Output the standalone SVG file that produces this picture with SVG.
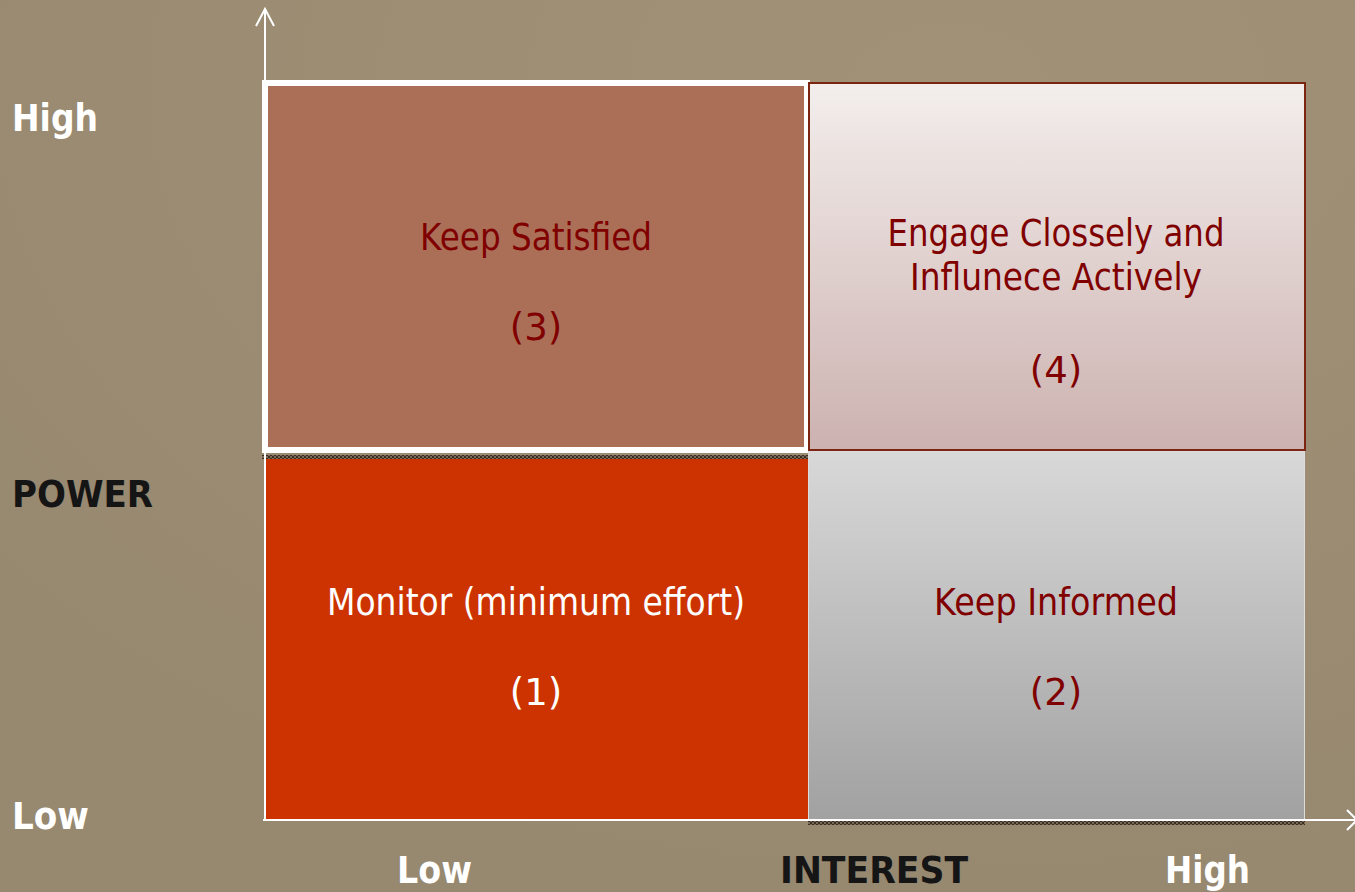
<svg xmlns="http://www.w3.org/2000/svg" width="1355" height="892" viewBox="0 0 1355 892">
<defs>
<style>
.lbl{font-family:"DejaVu Sans","Liberation Sans",sans-serif;font-weight:bold;font-size:37px}
.w{fill:#ffffff}
.k{fill:#151515}
.in{font-family:"DejaVu Sans","Liberation Sans",sans-serif;font-size:37px;text-anchor:middle}
.dr{fill:#800000}
.axis{stroke:#ffffff;stroke-width:2;fill:none}
</style>
<linearGradient id="g4" x1="0" y1="0" x2="0" y2="1">
<stop offset="0" stop-color="#f3eeec"/>
<stop offset="1" stop-color="#ccb2b0"/>
</linearGradient>
<linearGradient id="g2" x1="0" y1="0" x2="0" y2="1">
<stop offset="0" stop-color="#d8d8d8"/>
<stop offset="1" stop-color="#a1a1a1"/>
</linearGradient>
<radialGradient id="bg" cx="0.7" cy="0.1" r="0.9">
<stop offset="0" stop-color="#a19277"/>
<stop offset="1" stop-color="#978870"/>
</radialGradient>
<pattern id="dots" width="4" height="4" patternUnits="userSpaceOnUse">
<rect width="4" height="4" fill="#7a6a58"/>
<rect width="2" height="2" fill="#3a2e24"/>
<rect x="2" y="2" width="2" height="2" fill="#3a2e24"/>
</pattern>
</defs>
<rect width="1355" height="892" fill="url(#bg)"/>
<g id="q3">
<rect x="265" y="83" width="542" height="367" fill="#ab6f58" stroke="#ffffff" stroke-width="6"/>
<text class="in dr" x="536" y="250" textLength="232" lengthAdjust="spacingAndGlyphs">Keep Satisfied</text>
<text class="in dr" x="536" y="340">(3)</text>
</g>
<g id="q4">
<rect x="809" y="83" width="496" height="367" fill="url(#g4)" stroke="#7b2410" stroke-width="2"/>
<text class="in dr" x="1056" y="246" textLength="337" lengthAdjust="spacingAndGlyphs">Engage Clossely and</text>
<text class="in dr" x="1056" y="290" textLength="292" lengthAdjust="spacingAndGlyphs">Influnece Actively</text>
<text class="in dr" x="1056" y="383">(4)</text>
</g>
<g id="q1">
<rect x="265" y="456" width="543" height="364" fill="#cc3300"/>
<rect x="262" y="455" width="546" height="4" fill="url(#dots)"/>
<text class="in w" x="536" y="615" textLength="418" lengthAdjust="spacingAndGlyphs">Monitor (minimum effort)</text>
<text class="in w" x="536" y="705">(1)</text>
</g>
<g id="q2">
<rect x="808.5" y="451.5" width="496" height="369" fill="url(#g2)" stroke="#dcdcdc" stroke-width="1"/>
<rect x="808" y="821" width="497" height="4" fill="url(#dots)"/>
<text class="in dr" x="1056" y="615" textLength="244" lengthAdjust="spacingAndGlyphs">Keep Informed</text>
<text class="in dr" x="1056" y="705">(2)</text>
</g>
<g id="connectors">
<path class="axis" d="M265 9 V821"/>
<path class="axis" d="M256 26 L265 9 L274 26"/>
<path class="axis" d="M263 820 H1356"/>
<path class="axis" d="M1347 810 L1357 820 L1347 830"/>
</g>
<g id="labels">
<text class="lbl w" x="12" y="131" textLength="86" lengthAdjust="spacingAndGlyphs">High</text>
<text class="lbl k" x="12" y="507" textLength="141" lengthAdjust="spacingAndGlyphs">POWER</text>
<text class="lbl w" x="12" y="829" textLength="77" lengthAdjust="spacingAndGlyphs">Low</text>
<text class="lbl w" x="397" y="883" textLength="75" lengthAdjust="spacingAndGlyphs">Low</text>
<text class="lbl k" x="780" y="883" textLength="188" lengthAdjust="spacingAndGlyphs">INTEREST</text>
<text class="lbl w" x="1165" y="883" textLength="85" lengthAdjust="spacingAndGlyphs">High</text>
</g>
</svg>
